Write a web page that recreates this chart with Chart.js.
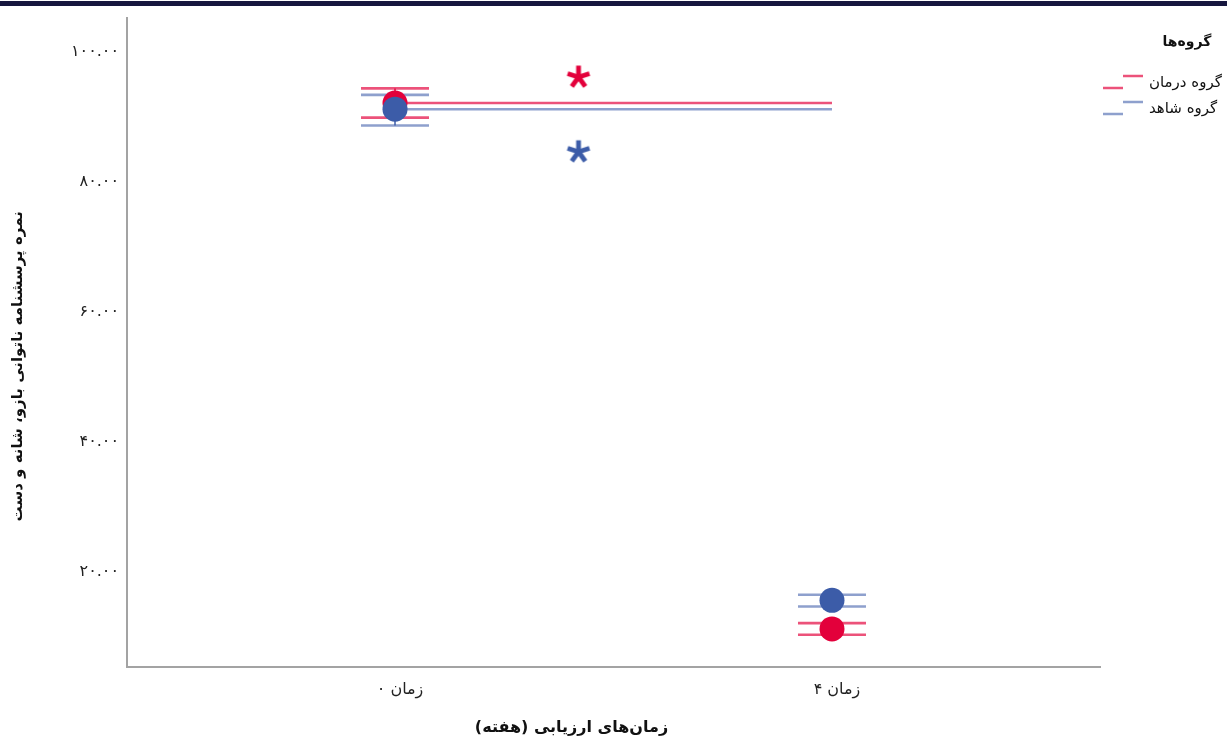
<!DOCTYPE html>
<html lang="fa">
<head>
<meta charset="utf-8">
<title>نمره پرسشنامه ناتوانی بازو، شانه و دست</title>
<script src="https://cdn.jsdelivr.net/npm/chart.js@4.4.1/dist/chart.umd.min.js"></script>
<style>
  html, body { margin: 0; padding: 0; background: #ffffff; overflow: hidden; }
  #wrap { position: absolute; left: 0; top: 0; width: 1227px; height: 740px; }
  #band { position: absolute; left: 0; top: 1px; width: 1227px; height: 5px; background: #16163e; }
</style>
</head>
<body>
<div id="wrap"><canvas id="chart" width="1227" height="740"></canvas></div>
<div id="band"></div>
<script>
// Assessment times (x axis) and group names
const categories = ['زمان ۰', 'زمان ۴'];
const groupNames = ['گروه درمان', 'گروه شاهد'];
const legendTitle = 'گروه\u200Cها';
const xTitle = 'زمان\u200Cهای ارزیابی (هفته)';
const yTitle = 'نمره پرسشنامه ناتوانی بازو، شانه و دست';
const yTickValues = [20, 40, 60, 80, 100];

// Estimated marginal means with error-bar limits, per assessment time
const treatmentMean = [92.15, 11.2];
const treatmentLow  = [89.9, 10.3];
const treatmentHigh = [94.4, 12.1];
const controlMean   = [91.2, 15.6];
const controlLow    = [88.7, 14.65];
const controlHigh   = [93.4, 16.45];

// Significance markers (placed between the two times)
const markerSlot = 0.42;
const treatmentMarker = 96.3;
const controlMarker = 84.8;

const RED = '#e3003b';
const BLUE = '#3c5ca8';
const RED_LINE = 'rgba(227, 0, 59, 0.68)';
const BLUE_LINE = 'rgba(60, 92, 168, 0.58)';
const FONT = '"DejaVu Sans", "Noto Sans", sans-serif';

const faDigits = '۰۱۲۳۴۵۶۷۸۹';
const toFa = s => String(s).replace(/\d/g, d => faDigits[d]);

const atTimes = values => values.map((v, i) => ({ x: i, y: v }));
const stems = (lo, hi) => lo.flatMap((v, i) => [{ x: i, y: v }, { x: i, y: hi[i] }, { x: i, y: null }]);
const caps = (lo, hi) => lo.flatMap((v, i) => [{ x: i, y: hi[i] }, { x: i, y: v }]);
const flatLine = values => categories.map((_, i) => ({ x: i, y: values[0] }));

// five-armed asterisk used as a point style
function asterisk(color) {
  const c = document.createElement('canvas');
  c.width = 30; c.height = 30;
  const g = c.getContext('2d');
  g.strokeStyle = color;
  g.lineWidth = 4.8;
  g.lineCap = 'butt';
  for (let k = 0; k < 5; k++) {
    const a = -Math.PI / 2 + k * 2 * Math.PI / 5;
    g.beginPath();
    g.moveTo(15, 16);
    g.lineTo(15 + 11.5 * Math.cos(a), 16 + 11.5 * Math.sin(a));
    g.stroke();
  }
  return c;
}

const groups = [
  { name: groupNames[0], line: RED_LINE },
  { name: groupNames[1], line: BLUE_LINE }
];

// axis titles and the group legend
const overlay = {
  id: 'overlay',
  afterDraw(chart) {
    const ctx = chart.ctx;
    const area = chart.chartArea;
    ctx.save();
    ctx.fillStyle = '#111111';
    ctx.textBaseline = 'middle';
    ctx.textAlign = 'center';

    ctx.save();
    ctx.font = 'bold 15px ' + FONT;
    ctx.translate(18, (area.top + area.bottom) / 2 + 24);
    ctx.rotate(-Math.PI / 2);
    ctx.fillText(yTitle, 0, 0);
    ctx.restore();

    ctx.font = 'bold 16px ' + FONT;
    ctx.fillText(xTitle, (area.left + area.right) / 2 - 42, 728);

    ctx.font = 'bold 14px ' + FONT;
    ctx.fillText(legendTitle, 1187, 42);

    ctx.font = '15px ' + FONT;
    ctx.textAlign = 'left';
    groups.forEach((g, i) => {
      const cy = 83 + i * 26;
      ctx.strokeStyle = g.line;
      ctx.lineWidth = 2.6;
      ctx.beginPath();
      ctx.moveTo(1123, cy - 7); ctx.lineTo(1143, cy - 7);
      ctx.moveTo(1103, cy + 5); ctx.lineTo(1123, cy + 5);
      ctx.stroke();
      ctx.fillText(g.name, 1149, cy);
    });
    ctx.restore();
  }
};

new Chart(document.getElementById('chart'), {
  type: 'scatter',
  data: {
    datasets: [
      { data: flatLine(treatmentMean), showLine: true, pointRadius: 0, borderColor: RED_LINE, borderWidth: 2.5, order: 10 },
      { data: flatLine(controlMean), showLine: true, pointRadius: 0, borderColor: BLUE_LINE, borderWidth: 2.5, order: 10 },
      { data: caps(treatmentLow, treatmentHigh), pointStyle: 'line', pointRadius: 34, pointBorderColor: RED_LINE, pointBorderWidth: 2.6, order: 8 },
      { data: caps(controlLow, controlHigh), pointStyle: 'line', pointRadius: 34, pointBorderColor: BLUE_LINE, pointBorderWidth: 2.6, order: 8 },
      { data: stems(treatmentLow, treatmentHigh), showLine: true, spanGaps: false, pointRadius: 0, borderColor: RED, borderWidth: 1.5, order: 6 },
      { data: stems(controlLow, controlHigh), showLine: true, spanGaps: false, pointRadius: 0, borderColor: BLUE, borderWidth: 1.5, order: 6 },
      { data: atTimes(treatmentMean), pointRadius: 12.5, pointBackgroundColor: RED, pointBorderWidth: 0, order: 3 },
      { data: atTimes(controlMean), pointRadius: 12.5, pointBackgroundColor: BLUE, pointBorderWidth: 0, order: 2 },
      { data: [{ x: markerSlot, y: treatmentMarker }], pointStyle: asterisk(RED), order: 1 },
      { data: [{ x: markerSlot, y: controlMarker }], pointStyle: asterisk(BLUE), order: 1 }
    ]
  },
  options: {
    responsive: false,
    animation: false,
    events: [],
    layout: { autoPadding: false, padding: { top: 12, right: 127, left: 0, bottom: 0 } },
    plugins: { legend: { display: false }, tooltip: { enabled: false } },
    scales: {
      x: {
        type: 'linear',
        min: -0.6133,
        max: 1.6133,
        grid: { display: false, drawTicks: false },
        border: { display: true, color: '#a3a3a3', width: 2 },
        afterBuildTicks: s => { s.ticks = categories.map((_, i) => ({ value: i })); },
        afterFit: s => { s.height = 73; },
        ticks: {
          padding: 13,
          labelOffset: 5,
          color: '#222222',
          font: { family: FONT, size: 16 },
          callback: v => categories[v]
        }
      },
      y: {
        type: 'linear',
        min: 5.34,
        max: 105.3,
        grid: { display: false, drawTicks: false },
        border: { display: true, color: '#a3a3a3', width: 2 },
        afterBuildTicks: s => { s.ticks = yTickValues.map(v => ({ value: v })); },
        afterFit: s => { s.width = 127; },
        ticks: {
          padding: 8,
          color: '#222222',
          font: { family: FONT, size: 16 },
          callback: v => toFa(Number(v).toFixed(2))
        }
      }
    }
  },
  plugins: [overlay]
});
</script>
</body>
</html>
